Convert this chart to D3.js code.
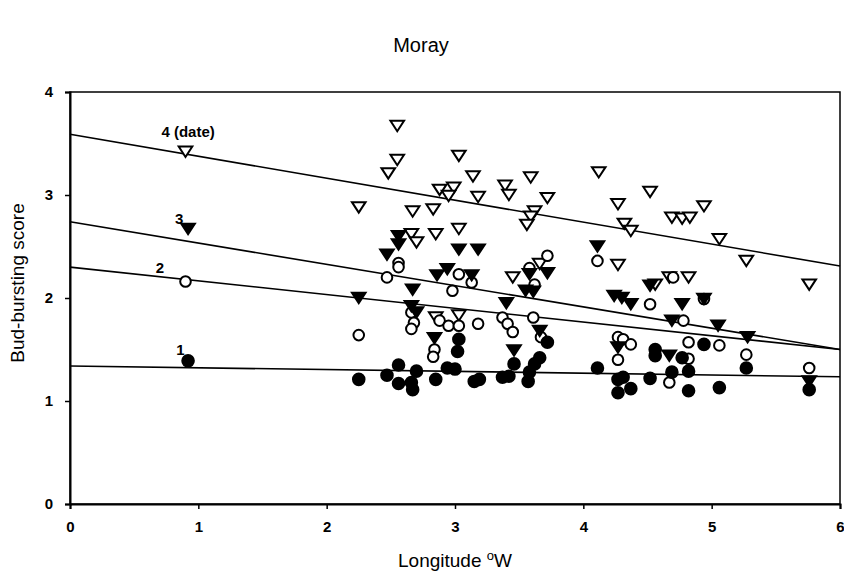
<!DOCTYPE html>
<html>
<head>
<meta charset="utf-8">
<script src="https://cdn.jsdelivr.net/npm/d3@7"></script>
<style>
  html, body { margin: 0; padding: 0; background: #fff; }
  svg { display: block; font-family: Arial, "Liberation Sans", Helvetica, sans-serif; }
</style>
</head>
<body>
<svg id="chart" width="844" height="577"></svg>
<script>
// Bud-bursting score against longitude (°W), Moray provenance
const xTicks = [0, 1, 2, 3, 4, 5, 6];
const yTicks = [0, 1, 2, 3, 4];

// score 4 (date) – open down-triangles
const score4 = [
  [0.90,3.42],[2.55,3.67],[2.55,3.34],[2.48,3.21],[2.25,2.88],[2.67,2.84],[2.66,2.62],[2.70,2.54],
  [3.03,3.38],[3.14,3.18],[2.88,3.05],[2.99,3.07],[2.95,2.99],[3.18,2.98],[3.39,3.09],[3.42,3.00],
  [3.59,3.17],[3.72,2.97],[3.62,2.84],[3.59,2.79],[3.56,2.71],[4.12,3.22],[2.83,2.86],[3.03,2.67],
  [2.85,2.62],[3.66,2.33],[3.45,2.20],[4.52,3.03],[4.27,2.91],[4.94,2.89],[4.69,2.78],[4.77,2.77],
  [4.83,2.78],[4.32,2.72],[4.37,2.65],[5.06,2.57],[5.27,2.36],[5.76,2.13],[4.27,2.32],[4.67,2.20],
  [4.82,2.20],[4.56,2.13],[2.85,1.81],[3.03,1.83]
];
// score 3 – filled down-triangles
const score3 = [
  [0.92,2.67],[2.56,2.60],[2.56,2.52],[2.47,2.42],[2.67,2.08],[2.25,2.00],[2.66,1.92],[2.70,1.86],
  [3.03,2.47],[3.18,2.47],[4.11,2.50],[3.58,2.23],[3.72,2.24],[2.94,2.28],[2.86,2.22],[3.13,2.22],
  [3.55,2.07],[3.61,2.06],[3.40,1.95],[3.66,1.68],[2.84,1.61],[3.46,1.49],[4.52,2.12],[4.24,2.02],
  [4.30,2.00],[4.37,1.94],[4.77,1.94],[4.94,1.99],[4.69,1.78],[5.05,1.73],[5.28,1.62],[4.27,1.52],
  [4.67,1.44],[5.76,1.19]
];
// score 2 – open circles
const score2 = [
  [0.90,2.16],[2.56,2.34],[2.56,2.30],[2.47,2.20],[2.66,1.86],[2.68,1.76],[2.66,1.70],[2.25,1.64],
  [4.11,2.36],[3.72,2.41],[3.58,2.29],[3.03,2.23],[3.13,2.15],[2.98,2.07],[3.62,2.13],[4.70,2.20],
  [4.52,1.94],[4.94,1.99],[2.88,1.78],[2.95,1.73],[3.03,1.73],[3.18,1.75],[3.37,1.81],[3.41,1.75],
  [3.45,1.67],[3.61,1.81],[3.67,1.62],[2.84,1.50],[2.83,1.43],[4.78,1.78],[4.27,1.62],[4.31,1.60],
  [4.37,1.55],[4.27,1.40],[4.82,1.57],[5.06,1.54],[4.82,1.41],[5.27,1.45],[5.76,1.32],[4.67,1.18]
];
// score 1 – filled circles
const score1 = [
  [0.92,1.39],[2.25,1.21],[2.56,1.35],[2.47,1.25],[2.70,1.29],[2.56,1.17],[2.66,1.18],[2.67,1.11],
  [3.72,1.57],[3.03,1.60],[3.02,1.48],[3.46,1.36],[3.66,1.42],[3.62,1.36],[3.58,1.28],[3.57,1.19],
  [2.94,1.32],[3.00,1.31],[2.85,1.21],[3.15,1.19],[3.19,1.21],[3.37,1.23],[3.42,1.24],[4.11,1.32],
  [4.94,1.55],[4.56,1.50],[4.56,1.44],[4.77,1.42],[5.27,1.32],[5.76,1.11],[4.27,1.21],[4.31,1.23],
  [4.52,1.22],[4.69,1.28],[4.82,1.29],[4.27,1.08],[4.37,1.12],[4.82,1.10],[5.06,1.13]
];

// fitted regression lines: value at longitude 0 and at longitude 6
const fitNames = ["4 (date)", "3", "2", "1"];
const fitStart = [3.59, 2.74, 2.30, 1.34];
const fitEnd   = [2.31, 1.50, 1.50, 1.235];
// where each line's label sits (data coordinates)
const labelX = [0.92, 0.85, 0.70, 0.86];
const labelY = [3.56, 2.72, 2.24, 1.45];

const svg = d3.select("#chart");
const x = d3.scaleLinear().domain([0, 6]).range([70, 840]);
const y = d3.scaleLinear().domain([0, 4]).range([504, 92]);

// title
svg.append("text").attr("x", 421).attr("y", 52).attr("text-anchor", "middle")
  .attr("font-size", 20).text("Moray");

// frame
svg.append("rect").attr("x", x(0)).attr("y", y(4))
  .attr("width", x(6) - x(0)).attr("height", y(0) - y(4))
  .attr("fill", "none").attr("stroke", "#000").attr("stroke-width", 1.5);

// axes
const xAxis = svg.append("g").attr("transform", `translate(0,${y(0)})`)
  .call(d3.axisBottom(x).tickValues(xTicks).tickFormat(d3.format("d")).tickSize(5).tickPadding(12));
const yAxis = svg.append("g").attr("transform", `translate(${x(0)},0)`)
  .call(d3.axisLeft(y).tickValues(yTicks).tickFormat(d3.format("d")).tickSize(5).tickPadding(12));
[xAxis, yAxis].forEach(g => {
  g.select(".domain").attr("stroke", "#000").attr("stroke-width", 2);
  g.selectAll(".tick line").attr("stroke", "#000").attr("stroke-width", 1.5);
  g.selectAll(".tick text").attr("font-size", 15).attr("font-weight", "bold")
    .attr("font-family", "Arial, 'Liberation Sans', sans-serif").attr("fill", "#000");
});

// axis titles
const xt = svg.append("text").attr("x", 455).attr("y", 567).attr("text-anchor", "middle")
  .attr("font-size", 19);
xt.append("tspan").text("Longitude ");
xt.append("tspan").attr("dy", -7).attr("font-size", 13).text("o");
xt.append("tspan").attr("dy", 7).text("W");

svg.append("text").attr("transform", "translate(24,283) rotate(-90)")
  .attr("text-anchor", "middle").attr("font-size", 19).text("Bud-bursting score");

// regression lines
const plot = svg.append("g");
fitNames.forEach((n, i) => {
  plot.append("line")
    .attr("x1", x(0)).attr("y1", y(fitStart[i]))
    .attr("x2", x(6)).attr("y2", y(fitEnd[i]))
    .attr("stroke", "#000").attr("stroke-width", 1.6);
  plot.append("text").attr("x", x(labelX[i])).attr("y", y(labelY[i]))
    .attr("text-anchor", "middle").attr("font-size", 15).attr("font-weight", "bold").text(n);
});

// markers
const tri = d3.symbol().type({
  draw(ctx, size) {
    const w = 6.8, h = 5.2;
    ctx.moveTo(-w, -h); ctx.lineTo(w, -h); ctx.lineTo(0, h); ctx.closePath();
  }
});
function drawTriangles(data, filled) {
  plot.append("g").selectAll("path").data(data).join("path")
    .attr("d", tri())
    .attr("transform", d => `translate(${x(d[0])},${y(d[1])})`)
    .attr("fill", filled ? "#000" : "#fff")
    .attr("stroke", "#000").attr("stroke-width", 2).attr("stroke-linejoin", "miter");
}
function drawCircles(data, filled) {
  plot.append("g").selectAll("circle").data(data).join("circle")
    .attr("cx", d => x(d[0])).attr("cy", d => y(d[1])).attr("r", filled ? 5.8 : 5.3)
    .attr("fill", filled ? "#000" : "#fff")
    .attr("stroke", "#000").attr("stroke-width", 2);
}
drawTriangles(score4, false);
drawCircles(score2, false);
drawTriangles(score3, true);
drawCircles(score1, true);
</script>
</body>
</html>
